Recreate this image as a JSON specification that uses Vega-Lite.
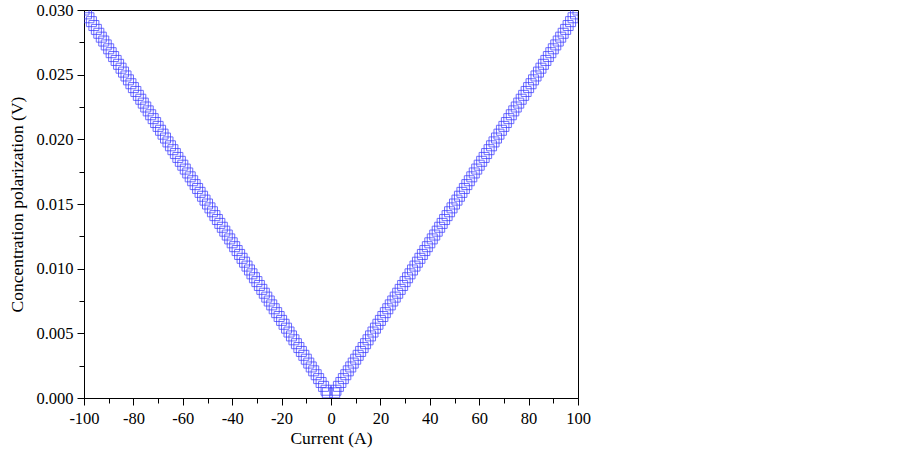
{
"$schema": "https://vega.github.io/schema/vega-lite/v6.json",
"autosize": {"type": "none"},
"width": 494,
"height": 388,
"padding": {"left": 84, "top": 10, "right": 325, "bottom": 58},
"background": "white",
"config": {
  "view": {"stroke": "black", "strokeWidth": 1},
  "axis": {"grid": false, "domainColor": "black", "tickColor": "black", "labelColor": "black", "titleColor": "black", "labelFont": "Liberation Serif", "titleFont": "Liberation Serif", "labelFontSize": 16.5, "titleFontSize": 17.5, "titleFontWeight": "normal", "domainWidth": 1, "tickWidth": 1}
},
"data": {"values": [
{"x":-100,"y":0.03},{"x":-99,"y":0.0297},{"x":-98,"y":0.0294},{"x":-97,"y":0.0291},{"x":-96,"y":0.0288},{"x":-95,"y":0.0285},{"x":-94,"y":0.0282},{"x":-93,"y":0.0279},{"x":-92,"y":0.0276},{"x":-91,"y":0.0273},
{"x":-90,"y":0.027},{"x":-89,"y":0.0267},{"x":-88,"y":0.0264},{"x":-87,"y":0.0261},{"x":-86,"y":0.0258},{"x":-85,"y":0.0255},{"x":-84,"y":0.0252},{"x":-83,"y":0.0249},{"x":-82,"y":0.0246},{"x":-81,"y":0.0243},
{"x":-80,"y":0.024},{"x":-79,"y":0.0237},{"x":-78,"y":0.0234},{"x":-77,"y":0.0231},{"x":-76,"y":0.0228},{"x":-75,"y":0.0225},{"x":-74,"y":0.0222},{"x":-73,"y":0.0219},{"x":-72,"y":0.0216},{"x":-71,"y":0.0213},
{"x":-70,"y":0.021},{"x":-69,"y":0.0207},{"x":-68,"y":0.0204},{"x":-67,"y":0.0201},{"x":-66,"y":0.0198},{"x":-65,"y":0.0195},{"x":-64,"y":0.0192},{"x":-63,"y":0.0189},{"x":-62,"y":0.0186},{"x":-61,"y":0.0183},
{"x":-60,"y":0.018},{"x":-59,"y":0.0177},{"x":-58,"y":0.0174},{"x":-57,"y":0.0171},{"x":-56,"y":0.0168},{"x":-55,"y":0.0165},{"x":-54,"y":0.0162},{"x":-53,"y":0.0159},{"x":-52,"y":0.0156},{"x":-51,"y":0.0153},
{"x":-50,"y":0.015},{"x":-49,"y":0.0147},{"x":-48,"y":0.0144},{"x":-47,"y":0.0141},{"x":-46,"y":0.0138},{"x":-45,"y":0.0135},{"x":-44,"y":0.0132},{"x":-43,"y":0.0129},{"x":-42,"y":0.0126},{"x":-41,"y":0.0123},
{"x":-40,"y":0.012},{"x":-39,"y":0.0117},{"x":-38,"y":0.0114},{"x":-37,"y":0.0111},{"x":-36,"y":0.0108},{"x":-35,"y":0.0105},{"x":-34,"y":0.0102},{"x":-33,"y":0.0099},{"x":-32,"y":0.0096},{"x":-31,"y":0.0093},
{"x":-30,"y":0.009},{"x":-29,"y":0.0087},{"x":-28,"y":0.0084},{"x":-27,"y":0.0081},{"x":-26,"y":0.0078},{"x":-25,"y":0.0075},{"x":-24,"y":0.0072},{"x":-23,"y":0.0069},{"x":-22,"y":0.0066},{"x":-21,"y":0.0063},
{"x":-20,"y":0.006},{"x":-19,"y":0.0057},{"x":-18,"y":0.0054},{"x":-17,"y":0.0051},{"x":-16,"y":0.0048},{"x":-15,"y":0.0045},{"x":-14,"y":0.0042},{"x":-13,"y":0.0039},{"x":-12,"y":0.0036},{"x":-11,"y":0.0033},
{"x":-10,"y":0.003},{"x":-9,"y":0.0027},{"x":-8,"y":0.0024},{"x":-7,"y":0.0021},{"x":-6,"y":0.0018},{"x":-5,"y":0.0015},{"x":-4,"y":0.0012},{"x":-3,"y":0.0009},{"x":-2,"y":0.0006},{"x":-1.5,"y":0.0004},
{"x":1.5,"y":0.0004},{"x":2,"y":0.0006},{"x":3,"y":0.0009},{"x":4,"y":0.0012},{"x":5,"y":0.0015},{"x":6,"y":0.0018},{"x":7,"y":0.0021},{"x":8,"y":0.0024},{"x":9,"y":0.0027},{"x":10,"y":0.003},
{"x":11,"y":0.0033},{"x":12,"y":0.0036},{"x":13,"y":0.0039},{"x":14,"y":0.0042},{"x":15,"y":0.0045},{"x":16,"y":0.0048},{"x":17,"y":0.0051},{"x":18,"y":0.0054},{"x":19,"y":0.0057},{"x":20,"y":0.006},
{"x":21,"y":0.0063},{"x":22,"y":0.0066},{"x":23,"y":0.0069},{"x":24,"y":0.0072},{"x":25,"y":0.0075},{"x":26,"y":0.0078},{"x":27,"y":0.0081},{"x":28,"y":0.0084},{"x":29,"y":0.0087},{"x":30,"y":0.009},
{"x":31,"y":0.0093},{"x":32,"y":0.0096},{"x":33,"y":0.0099},{"x":34,"y":0.0102},{"x":35,"y":0.0105},{"x":36,"y":0.0108},{"x":37,"y":0.0111},{"x":38,"y":0.0114},{"x":39,"y":0.0117},{"x":40,"y":0.012},
{"x":41,"y":0.0123},{"x":42,"y":0.0126},{"x":43,"y":0.0129},{"x":44,"y":0.0132},{"x":45,"y":0.0135},{"x":46,"y":0.0138},{"x":47,"y":0.0141},{"x":48,"y":0.0144},{"x":49,"y":0.0147},{"x":50,"y":0.015},
{"x":51,"y":0.0153},{"x":52,"y":0.0156},{"x":53,"y":0.0159},{"x":54,"y":0.0162},{"x":55,"y":0.0165},{"x":56,"y":0.0168},{"x":57,"y":0.0171},{"x":58,"y":0.0174},{"x":59,"y":0.0177},{"x":60,"y":0.018},
{"x":61,"y":0.0183},{"x":62,"y":0.0186},{"x":63,"y":0.0189},{"x":64,"y":0.0192},{"x":65,"y":0.0195},{"x":66,"y":0.0198},{"x":67,"y":0.0201},{"x":68,"y":0.0204},{"x":69,"y":0.0207},{"x":70,"y":0.021},
{"x":71,"y":0.0213},{"x":72,"y":0.0216},{"x":73,"y":0.0219},{"x":74,"y":0.0222},{"x":75,"y":0.0225},{"x":76,"y":0.0228},{"x":77,"y":0.0231},{"x":78,"y":0.0234},{"x":79,"y":0.0237},{"x":80,"y":0.024},
{"x":81,"y":0.0243},{"x":82,"y":0.0246},{"x":83,"y":0.0249},{"x":84,"y":0.0252},{"x":85,"y":0.0255},{"x":86,"y":0.0258},{"x":87,"y":0.0261},{"x":88,"y":0.0264},{"x":89,"y":0.0267},{"x":90,"y":0.027},
{"x":91,"y":0.0273},{"x":92,"y":0.0276},{"x":93,"y":0.0279},{"x":94,"y":0.0282},{"x":95,"y":0.0285},{"x":96,"y":0.0288},{"x":97,"y":0.0291},{"x":98,"y":0.0294},{"x":99,"y":0.0297},{"x":100,"y":0.03}
]},
"layer": [
  {
    "mark": {"type": "point", "shape": "square", "filled": false, "size": 100, "stroke": "#3030ff", "strokeWidth": 1, "clip": true},
    "encoding": {
      "x": {"field": "x", "type": "quantitative", "scale": {"domain": [-100, 100], "nice": false, "zero": false},
        "axis": {"orient": "bottom", "values": [-100, -80, -60, -40, -20, 0, 20, 40, 60, 80, 100], "labelExpr": "'' + datum.value", "tickSize": 7, "labelPadding": 5, "title": "Current (A)", "titlePadding": 3, "labelFlush": false}},
      "y": {"field": "y", "type": "quantitative", "scale": {"domain": [0, 0.03], "nice": false},
        "axis": {"orient": "left", "values": [0, 0.005, 0.01, 0.015, 0.02, 0.025, 0.03], "format": ".3f", "tickSize": 7, "labelPadding": 4, "title": "Concentration polarization (V)", "titlePadding": 9, "labelFlush": false}}
    }
  },
  {
    "mark": {"type": "point", "opacity": 0},
    "encoding": {
      "x": {"field": "x", "type": "quantitative", "scale": {"domain": [-100, 100], "nice": false, "zero": false},
        "axis": {"orient": "bottom", "values": [-90, -70, -50, -30, -10, 10, 30, 50, 70, 90], "tickSize": 5, "labels": false, "title": null, "domain": false}},
      "y": {"field": "y", "type": "quantitative", "scale": {"domain": [0, 0.03], "nice": false},
        "axis": {"orient": "left", "values": [0.0025, 0.0075, 0.0125, 0.0175, 0.0225, 0.0275], "tickSize": 5, "labels": false, "title": null, "domain": false}}
    }
  }
],
"resolve": {"axis": {"x": "independent", "y": "independent"}}
}
